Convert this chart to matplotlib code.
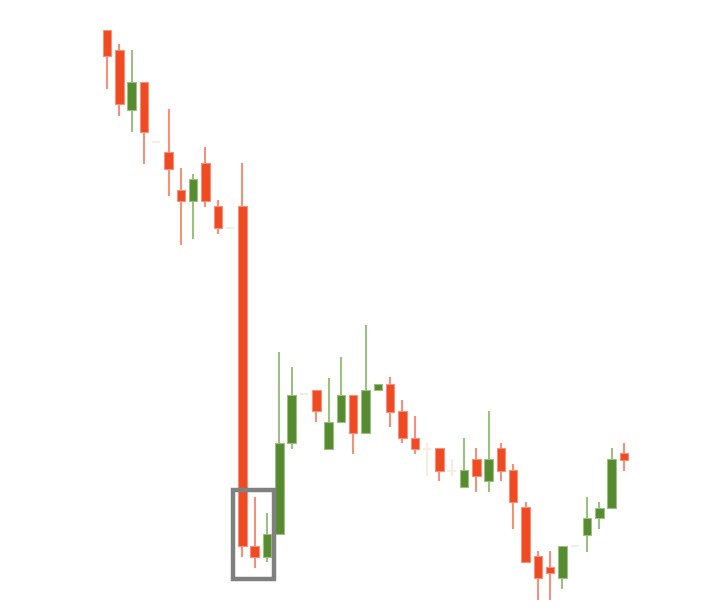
import matplotlib
matplotlib.use("Agg")
import matplotlib.pyplot as plt
from matplotlib.patches import Rectangle
import numpy as np

# OHLC data (arbitrary price units)
opens  = [583, 563, 503, 531, 471, 461, 423, 412, 450, 407, 385, 407, 67, 56, 79, 170, 219,
          223, 164, 191, 218, 180, 223, 229, 202, 175, 164, 165, 142, 126, 154, 132, 165,
          143, 106, 57, 46, 35, 67, 78, 95, 105, 160]
highs  = [583, 569, 563, 531, 471, 504, 445, 439, 466, 413, 385, 450, 116, 100, 261, 246, 219,
          223, 235, 256, 218, 288, 229, 236, 213, 197, 170, 165, 154, 175, 165, 202, 170,
          149, 111, 62, 62, 67, 67, 116, 111, 165, 170]
lows   = [524, 497, 481, 449, 471, 417, 368, 374, 406, 379, 385, 56, 45, 51, 79, 164, 219,
          191, 164, 191, 159, 180, 223, 186, 170, 159, 137, 132, 137, 126, 121, 121, 132,
          84, 51, 13, 13, 24, 67, 61, 84, 105, 142]
closes = [557, 509, 531, 481, 471, 444, 412, 434, 412, 385, 385, 67, 56, 79, 170, 218, 219,
          202, 191, 218, 180, 223, 229, 201, 175, 164, 164, 142, 142, 143, 137, 154, 142,
          111, 51, 35, 40, 67, 67, 95, 105, 154, 153]

# highlighted zone (candle index range, price range)
highlight_x = (10.27, 13.57)
highlight_y = (34, 123)

RED = "#f04a23"
RED_W = "#f5907a"
GREEN = "#578b2f"
GREEN_W = "#9dbf84"
FAINT = "#f8ebe2"

fig = plt.figure(figsize=(7.10, 6.13), dpi=100)
ax = fig.add_axes([0, 0, 1, 1])
ax.set_xlim(-107 / 12.31, (710 - 107) / 12.31)
ax.set_ylim(0, 613)
ax.axis("off")

w = 0.69
for i, (o, h, l, c) in enumerate(zip(opens, highs, lows, closes)):
    if c == o:
        ax.vlines(i, l, h, color=FAINT, lw=1.5, zorder=1)
        ax.hlines(o, i - w / 2, i + w / 2, color=FAINT, lw=1.5, zorder=1)
        continue
    up = c > o
    body_c = GREEN if up else RED
    wick_c = GREEN_W if up else RED_W
    ax.vlines(i, l, h, color=wick_c, lw=1.5, zorder=1)
    ax.bar(i, abs(c - o), bottom=min(o, c), width=w, color=body_c,
           edgecolor=wick_c, linewidth=0.8, zorder=2)

x0, x1 = highlight_x
y0, y1 = highlight_y
ax.add_patch(Rectangle((x0, y0), x1 - x0, y1 - y0, fill=False,
                       edgecolor="#808080", linewidth=3.2, zorder=3))

fig.savefig("out.png", dpi=100)
